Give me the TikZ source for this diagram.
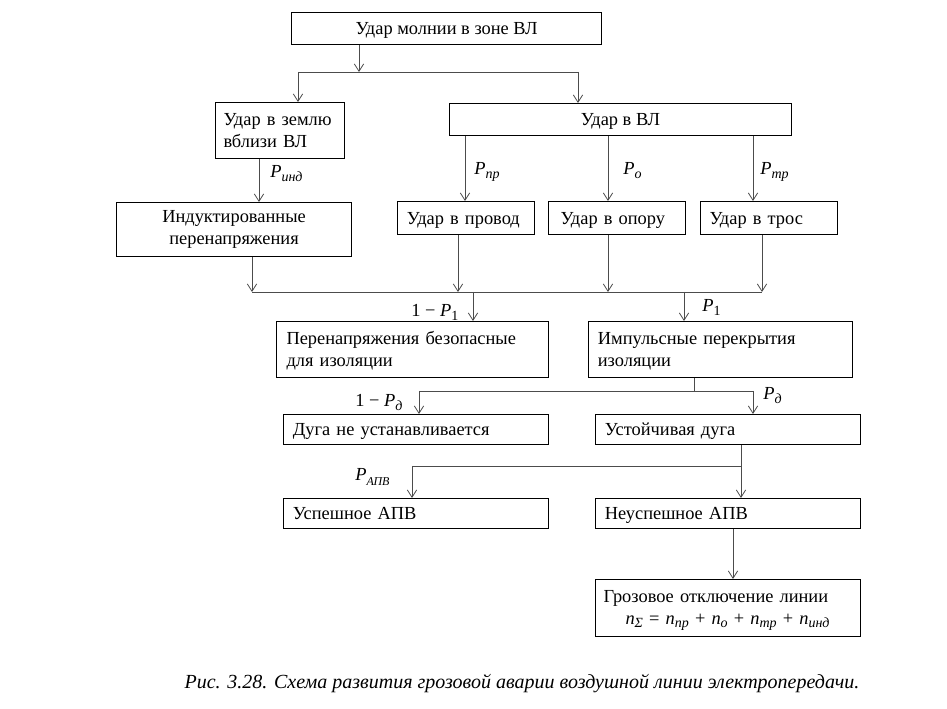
\documentclass[tikz,border=0pt]{standalone}
\usepackage{fontspec}
\setmainfont{Liberation Serif}
\usetikzlibrary{arrows.meta}
\newcommand\sbx[1]{\raisebox{-0.4ex}{\fontsize{10.5}{10.5}\selectfont\itshape #1}}
\newcommand\sbu[1]{\raisebox{-0.4ex}{\fontsize{10.5}{10.5}\selectfont #1}}
\newcommand\PP[1]{\textit{P}\sbx{#1}}
\newcommand\NN[1]{\textit{n}\sbx{#1}}
\newcommand\bstrut{\rule[-3.5pt]{0pt}{16.1pt}}
\begin{document}
\begin{tikzpicture}[x=0.75pt,y=-0.75pt,
 box/.style={draw=black, line width=0.8pt, inner ysep=0pt, anchor=north west,
   font=\fontsize{13.8}{16.3}\selectfont,
   execute at begin node={\bstrut}, execute at end node={\bstrut}},
 cbox/.style={box, align=center, inner xsep=0pt},
 lbox/.style={box, align=left},
 conn/.style={draw=black!70, line width=0.6pt},
 arr/.style={conn, -{Straight Barb[length=5.5pt,width=7pt,line width=0.6pt]}},
 lab/.style={inner sep=0pt, anchor=base west, font=\fontsize{13.8}{16}\selectfont}]
\useasboundingbox (0,0) rectangle (947,709);

% boxes
\node[cbox, minimum width=232.5pt, minimum height=24pt] (top) at (291,12) {Удар молнии в зоне ВЛ};
\node[lbox, inner xsep=6pt, text width=84.75pt, minimum height=42pt] (zemlya) at (215,102) {Удар в землю\\вблизи ВЛ};
\node[cbox, minimum width=256.5pt, minimum height=24pt] (vl) at (449,103) {Удар в ВЛ};
\node[lbox, inner xsep=7pt, text width=88.75pt, minimum height=24.75pt] (provod) at (397,201) {Удар в провод};
\node[lbox, inner xsep=9pt, text width=84.75pt, minimum height=24.75pt] (opora) at (548,201) {Удар в опору};
\node[lbox, inner xsep=6.75pt, text width=89.25pt, minimum height=24.75pt] (tros) at (700,201) {Удар в трос};
\node[cbox, minimum width=176.25pt, minimum height=40.5pt] (induct) at (116,202) {Индуктированные\\перенапряжения};
\node[lbox, inner xsep=7.5pt, text width=189pt, minimum height=42pt] (bezop) at (276,321) {Перенапряжения безопасные\\для изоляции};
\node[lbox, inner xsep=7pt, text width=184pt, minimum height=42pt] (impuls) at (588,321) {Импульсные перекрытия\\изоляции};
\node[lbox, inner xsep=7pt, text width=184.75pt, minimum height=22.5pt] (dugane) at (283,414) {Дуга не устанавливается};
\node[lbox, inner xsep=7pt, text width=184.75pt, minimum height=22.5pt] (ustoich) at (595,414) {Устойчивая дуга};
\node[lbox, inner xsep=7pt, text width=184.75pt, minimum height=22.5pt] (uspesh) at (283,498) {Успешное АПВ};
\node[lbox, inner xsep=7pt, text width=184.75pt, minimum height=22.5pt] (neuspesh) at (595,498) {Неуспешное АПВ};
\node[lbox, inner xsep=6pt, text width=186.75pt, minimum height=42.75pt] (groz) at (595,579) {Грозовое отключение линии\\\hspace*{16.5pt}\textit{n}\sbx{Σ} = \NN{пр} + \NN{о} + \NN{тр} + \NN{инд}};

\node[font=\fontsize{15}{17}\selectfont\itshape, inner sep=0pt] (cap) at (522,684) {Рис. 3.28. Схема развития грозовой аварии воздушной линии электропередачи.};

% connectors
\coordinate (t1) at (359,72);
\coordinate (hL) at (298,72);
\coordinate (hR) at (578,72);
\draw[arr] (top.south -| t1) -- (t1);
\draw[conn] (hL) -- (hR);
\draw[arr] (hL) -- (zemlya.north -| hL);
\draw[arr] (hR) -- (vl.north -| hR);

\coordinate (a1) at (465,0);
\coordinate (a2) at (608,0);
\coordinate (a3) at (753,0);
\coordinate (a0) at (259,0);
\draw[arr] (vl.south -| a1) -- (provod.north -| a1);
\draw[arr] (vl.south -| a2) -- (opora.north -| a2);
\draw[arr] (vl.south -| a3) -- (tros.north -| a3);
\draw[arr] (zemlya.south -| a0) -- (induct.north -| a0);

\coordinate (m1) at (252,292);
\coordinate (m2) at (458,292);
\coordinate (m3) at (608,292);
\coordinate (m4) at (762,292);
\draw[arr] (induct.south -| m1) -- (m1);
\draw[arr] (provod.south -| m2) -- (m2);
\draw[arr] (opora.south -| m3) -- (m3);
\draw[arr] (tros.south -| m4) -- (m4);
\draw[conn] (m1) -- (m4);
\coordinate (n1) at (473,292);
\coordinate (n2) at (684,292);
\draw[arr] (n1) -- (bezop.north -| n1);
\draw[arr] (n2) -- (impuls.north -| n2);

\coordinate (k0) at (694,391);
\coordinate (kL) at (419,391);
\coordinate (kR) at (753,391);
\draw[conn] (impuls.south -| k0) -- (k0);
\draw[conn] (kL) -- (kR);
\draw[arr] (kL) -- (dugane.north -| kL);
\draw[arr] (kR) -- (ustoich.north -| kR);

\coordinate (u0) at (741,466);
\coordinate (uL) at (412,466);
\draw[conn] (ustoich.south -| u0) -- (u0);
\draw[conn] (uL) -- (u0);
\draw[arr] (uL) -- (uspesh.north -| uL);
\draw[arr] (u0) -- (neuspesh.north -| u0);
\coordinate (g0) at (733,0);
\draw[arr] (neuspesh.south -| g0) -- (groz.north -| g0);

% labels
\node[lab] (lind) at (270,178) {\PP{инд}};
\node[lab] (lpr) at (474,175) {\PP{пр}};
\node[lab] (lo) at (623,175) {\PP{о}};
\node[lab] (ltr) at (760,175) {\PP{тр}};
\node[lab] (l1p1) at (411,317) {1 − \textit{P}\sbu{1}};
\node[lab] (lp1) at (702,312) {\textit{P}\sbu{1}};
\node[lab] (l1pd) at (355,407) {1 − \PP{д}};
\node[lab] (lpd) at (763,400) {\PP{д}};
\node[lab] (lapv) at (355,480) {\textit{P}\raisebox{-0.6ex}{\fontsize{9}{9}\selectfont\itshape АПВ}};
\end{tikzpicture}
\end{document}
